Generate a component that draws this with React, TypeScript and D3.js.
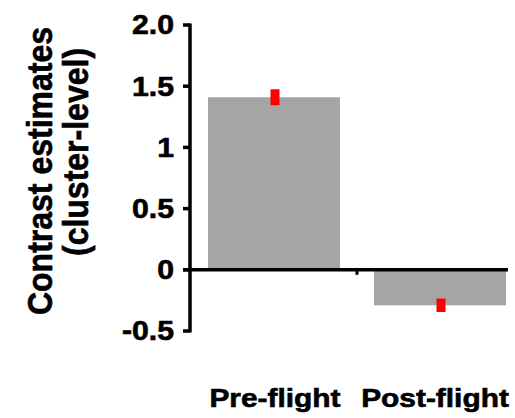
import React from "react";
import * as d3 from "d3";

const categories = ["Pre-flight", "Post-flight"];
const values = [1.41, -0.29];
const errors = [0.065, 0.055];
const tickValues = [-0.5, 0, 0.5, 1, 1.5, 2.0];
const tickLabels = ["-0.5", "0", "0.5", "1", "1.5", "2.0"];
const yTitle = ["Contrast estimates", "(cluster-level)"];

const W = 515;
const H = 418;
const FONT = "'Liberation Sans', Arial, sans-serif";

export default function App() {
  const x = d3
    .scaleBand<string>()
    .domain(categories)
    .range([191, 523])
    .paddingInner(0.205)
    .paddingOuter(0.1025);
  const y = d3.scaleLinear().domain([-0.5, 2.0]).range([331, 25]);
  const axisX = 190;
  const bw = x.bandwidth();
  const labelDx = [0, -6];
  const textStroke = { stroke: "#000", strokeWidth: 0.6 };

  return (
    <svg
      width={W}
      height={H}
      style={{ position: "absolute", left: 0, top: 0, background: "#fff" }}
      fontFamily={FONT}
      fontWeight="bold"
    >
      {/* bars */}
      {categories.map((c, i) => {
        const v = values[i];
        const y0 = y(Math.max(0, v));
        const y1 = y(Math.min(0, v));
        return (
          <rect key={c} x={x(c)!} y={y0} width={bw} height={y1 - y0} fill="#a5a5a5" />
        );
      })}
      {/* error bars */}
      {categories.map((c, i) => {
        const cx = x(c)! + bw / 2 + 1;
        const top = y(values[i] + errors[i]);
        const bot = y(values[i] - errors[i]);
        return <rect key={c + "e"} x={cx - 4.5} y={top} width={9} height={bot - top} fill="#ff0000" />;
      })}
      {/* y axis */}
      <line x1={axisX} x2={axisX} y1={y(2.0) - 1.5} y2={y(-0.5) + 1.5} stroke="#000" strokeWidth={3.5} />
      {tickValues.map((t, i) => (
        <g key={t}>
          <line x1={axisX - 7} x2={axisX} y1={y(t)} y2={y(t)} stroke="#000" strokeWidth={3.5} />
          <text
            transform={`translate(174,${y(t)}) scale(1.12,1)`}
            textAnchor="end"
            dominantBaseline="central"
            fontSize={27}
            fill="#000"
            {...textStroke}
          >
            {tickLabels[i]}
          </text>
        </g>
      ))}
      {/* zero line */}
      <line x1={axisX - 7} x2={508} y1={y(0)} y2={y(0)} stroke="#000" strokeWidth={3.5} />
      <line
        x1={x(categories[1])! - (x.step() - bw) / 2}
        x2={x(categories[1])! - (x.step() - bw) / 2}
        y1={y(0)}
        y2={y(0) + 5}
        stroke="#000"
        strokeWidth={3}
      />
      {/* category labels */}
      {categories.map((c, i) => (
        <text
          key={c + "l"}
          transform={`translate(${x(c)! + bw / 2 + 1 + labelDx[i]},407) scale(1.15,1)`}
          textAnchor="middle"
          fontSize={26}
          fill="#000"
          {...textStroke}
        >
          {c}
        </text>
      ))}
      {/* y title */}
      <text
        transform={`translate(52,171) scale(1.09,1) rotate(-90)`}
        textAnchor="middle"
        fontSize={32}
        fill="#000"
        {...textStroke}
      >
        {yTitle[0]}
      </text>
      <text
        transform={`translate(88,152) scale(1.09,1) rotate(-90)`}
        textAnchor="middle"
        fontSize={32}
        fill="#000"
        {...textStroke}
      >
        {yTitle[1]}
      </text>
    </svg>
  );
}
